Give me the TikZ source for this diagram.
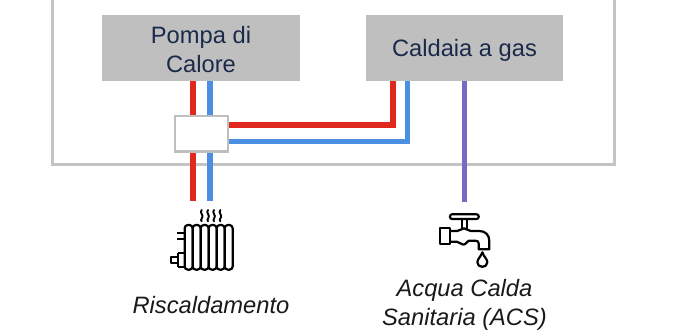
\documentclass[tikz,border=0pt]{standalone}
\usepackage{fontspec}
\setmainfont{Liberation Sans}
\definecolor{boxgray}{HTML}{BFBFBF}
\definecolor{framegray}{HTML}{C4C4C4}
\definecolor{pipered}{HTML}{E0281E}
\definecolor{pipeblue}{HTML}{4A8FE2}
\definecolor{pipepurple}{HTML}{7B68C4}
\definecolor{navy}{HTML}{1B2A4A}
\tikzset{
  unitbox/.style={fill=boxgray,draw=none,inner sep=0pt},
  unitlabel/.style={inner sep=0pt,align=center,text=navy,font=\fontsize{23.7}{29}\selectfont},
  caption/.style={inner sep=0pt,align=center,text=black!90,font=\fontsize{23.7}{28.5}\selectfont\itshape},
  pipe/.style={line width=5.2pt},
  icon/.style={draw=black,line width=2.2pt,line join=round,line cap=round},
}
\begin{document}
\begin{tikzpicture}[x=1pt,y=-1pt]
\useasboundingbox (0,0) rectangle (677,332);
\draw[framegray,line width=3pt] (52.5,0) -- (52.5,164) -- (614,164) -- (614,0);
\node[unitbox,minimum width=198pt,minimum height=66pt,label={[unitlabel,yshift=-1.8pt]center:Pompa di\\Calore}] (pdc) at (201,48) {};
\node[unitbox,minimum width=197pt,minimum height=66pt,label={[unitlabel,yshift=-2.2pt]center:Caldaia a gas}] (cal) at (464.5,48) {};
\coordinate (hubT1) at (193,115);
\coordinate (hubT2) at (210,115);
\coordinate (radR) at (193,201);
\coordinate (radB) at (210,201);
\coordinate (acs) at (464.5,202);
\coordinate (calR) at (393,81);
\coordinate (calB) at (407.5,81);
\draw[pipe,pipered] (pdc.south -| hubT1) -- (radR);
\draw[pipe,pipeblue] (pdc.south -| hubT2) -- (radB);
\draw[pipe,pipepurple] (cal.south -| acs) -- (acs);
\node[draw=boxgray,line width=2.6pt,fill=white,minimum width=53pt,minimum height=35.5pt,inner sep=0pt] (hub) at (201.5,133.7) {};
\coordinate (hubR) at (hub.east |- 0,125);
\coordinate (hubB) at (hub.east |- 0,141.7);
\draw[pipe,pipered,line join=miter] (hubR) -- (hubR -| calR) -- (calR);
\draw[pipe,pipeblue,line join=miter] (hubB) -- (hubB -| calB) -- (calB);
% radiator
\begin{scope}[shift={(150,190)},x=0.3333pt,y=-0.3333pt]
\foreach \i in {0,1,2,3,4,5}{
  \draw[icon,rounded corners=3.2pt] ({104+24*\i},105) rectangle ({128+24*\i},239);
}
\foreach \i in {155,174,192,211}{
  \draw[icon,line width=1.9pt] (\i,60) .. controls (\i-8,68) and (\i+8,76) .. (\i+1,84) .. controls (\i-3,88) and (\i-2,91) .. (\i,94);
}
\draw[icon,line cap=butt] (82,130) -- (104,130) (82,148) -- (104,148);
\draw[icon,line cap=butt] (84,190) -- (104,190) (84,232) -- (104,232) (84,190) -- (84,232);
\draw[icon,line width=2pt] (84,200) -- (63,200) -- (63,218) -- (84,218);
\end{scope}
% tap
\begin{scope}[shift={(420,195)},x=0.3333pt,y=-0.3333pt]
\draw[icon,rounded corners=2pt] (90,58) rectangle (176,72);
\draw[icon,line width=1.8pt] (125,72) -- (125,100) (140,72) -- (140,100);
\draw[icon,line cap=butt] (132,54) -- (132,58);
\draw[icon] (59,100) rectangle (90,147);
\draw[icon] (90,108) -- (112,108) .. controls (120,108) and (124,100) .. (132,100) .. controls (140,100) and (144,108) .. (152,108) -- (178,108) .. controls (196,108) and (208,120) .. (208,138) -- (208,163) -- (176,163) -- (176,145) .. controls (176,140) and (172,137) .. (166,137) -- (148,137) .. controls (142,137) and (138,149) .. (130,149) .. controls (122,149) and (118,140) .. (110,140) -- (90,140);
\draw[icon] (187,172) .. controls (182,186) and (172,192) .. (172,202) .. controls (172,220) and (202,220) .. (202,202) .. controls (202,192) and (192,186) .. (187,172) -- cycle;
\end{scope}
\node[caption] (riscald) at (211,305.5) {Riscaldamento};
\node[caption] (acqua) at (464.5,305) {Acqua Calda\\Sanitaria (ACS)};
\end{tikzpicture}
\end{document}
